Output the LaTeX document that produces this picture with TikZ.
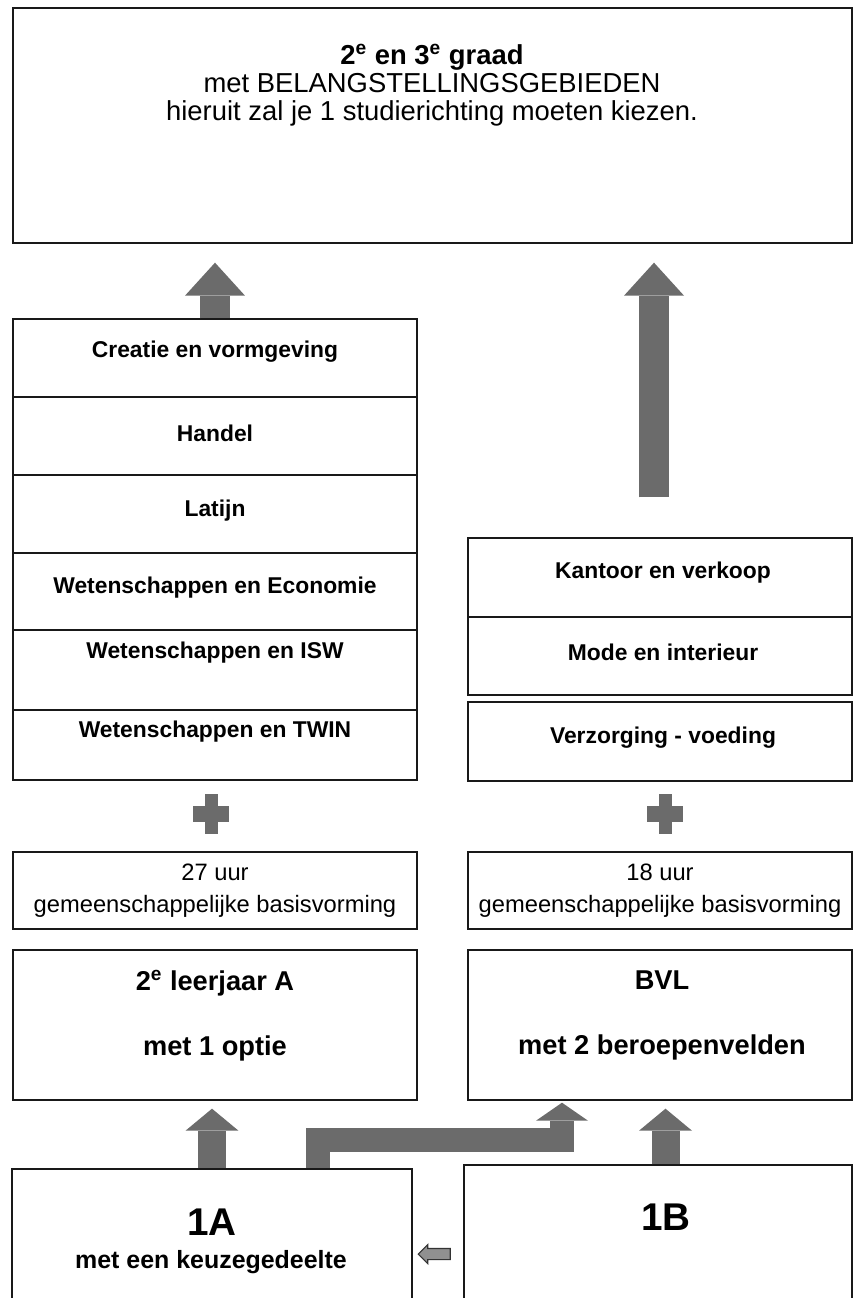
\documentclass[tikz,border=0pt]{standalone}
\usepackage{fontspec}
\setmainfont{Liberation Sans}
\usepackage{tikz}
\usetikzlibrary{arrows.meta}
\usetikzlibrary{shapes.arrows}

\definecolor{arrowgray}{RGB}{107,107,107}

\begin{document}
\begin{tikzpicture}[x=0.02cm, y=-0.02cm,
        box/.style={draw=black!90, line width=0.8pt, inner sep=0pt},
        opt/.style={font=\fontsize{13}{15}\selectfont\bfseries},
        upbig/.style={draw=arrowgray, line width=0.6cm, -{Triangle[width=1.2cm,length=0.66cm,line width=0pt]}},
        upsmall/.style={draw=arrowgray, line width=0.56cm, -{Triangle[width=1.06cm,length=0.44cm,line width=0pt]}},
        bendup/.style={draw=arrowgray, line width=0.48cm, line join=miter, -{Triangle[width=1.04cm,length=0.36cm,line width=0pt]}}]

        \useasboundingbox (0,0) rectangle (853,1298);
        \fill[white] (0,0) rectangle (853,1298);
        \clip (0,0) rectangle (853,1298);

        % top: 2e en 3e graad
        \node[box, minimum width=16.78cm, minimum height=4.7cm] (top) at (432.5,125.5) {};
        \node[align=center, font=\fontsize{15.6}{15.9}\selectfont] (toptxt) at (432,85)
            {\textbf{2\textsuperscript{e} en 3\textsuperscript{e} graad}\\met BELANGSTELLINGSGEBIEDEN\\hieruit zal je 1 studierichting moeten kiezen.};

        % options 2e leerjaar A
        \node[box, minimum width=8.08cm, minimum height=1.56cm] (crea) at (215,358) {};
        \node[box, minimum width=8.08cm, minimum height=1.56cm] (hand) at (215,436) {};
        \node[box, minimum width=8.08cm, minimum height=1.56cm] (lat) at (215,514) {};
        \node[box, minimum width=8.08cm, minimum height=1.54cm] (weco) at (215,591.5) {};
        \node[box, minimum width=8.08cm, minimum height=1.6cm] (wisw) at (215,670) {};
        \node[box, minimum width=8.08cm, minimum height=1.4cm] (wtwin) at (215,745) {};
        \node[opt] (creatxt) at (215,352) {Creatie en vormgeving};
        \node[opt] (handtxt) at (215,433) {Handel};
        \node[opt] (lattxt) at (215,511) {Latijn};
        \node[opt] (wecotxt) at (215,588) {Wetenschappen en Economie};
        \node[opt] (wiswtxt) at (215,653) {Wetenschappen en ISW};
        \node[opt] (wtwintxt) at (215,732) {Wetenschappen en TWIN};

        % beroepenvelden BVL
        \node[box, minimum width=7.68cm, minimum height=1.58cm] (kant) at (660,577.5) {};
        \node[box, minimum width=7.68cm, minimum height=1.56cm] (mode) at (660,656) {};
        \node[box, minimum width=7.68cm, minimum height=1.58cm] (verz) at (660,741.5) {};
        \node[opt] (kanttxt) at (663,573) {Kantoor en verkoop};
        \node[opt] (modetxt) at (663,652) {Mode en interieur};
        \node[opt] (verztxt) at (663,738) {Verzorging - voeding};

        % plus signs
        \begin{scope}[shift={(211,814)}]
            \fill[arrowgray] (-6.5,-20) rectangle (6.5,20);
            \fill[arrowgray] (-18,-8) rectangle (18,8);
        \end{scope}
        \begin{scope}[shift={(665,814)}]
            \fill[arrowgray] (-6.5,-20) rectangle (6.5,20);
            \fill[arrowgray] (-18,-8) rectangle (18,8);
        \end{scope}

        % basisvorming
        \node[box, minimum width=8.08cm, minimum height=1.54cm, align=center, font=\fontsize{13.5}{18}\selectfont] (basa) at (215,890.5)
            {27 uur\\gemeenschappelijke basisvorming};
        \node[box, minimum width=7.68cm, minimum height=1.54cm, align=center, font=\fontsize{13.5}{18}\selectfont] (basb) at (660,890.5)
            {18 uur\\gemeenschappelijke basisvorming};

        % 2e leerjaar
        \node[box, minimum width=8.08cm, minimum height=3cm] (leer) at (215,1025) {};
        \node[box, minimum width=7.68cm, minimum height=3cm] (bvl) at (660,1025) {};
        \node[align=center, font=\fontsize{15.5}{37}\selectfont\bfseries] (leertxt) at (215,1015.5)
            {2\textsuperscript{e} leerjaar A\\met 1 optie};
        \node[align=center, font=\fontsize{15.5}{37}\selectfont\bfseries] (bvltxt) at (662,1015.5)
            {BVL\\met 2 beroepenvelden};

        % 1e leerjaar
        \node[box, minimum width=8cm, minimum height=3.42cm] (onea) at (212,1254.5) {};
        \node[box, minimum width=7.76cm, minimum height=3.5cm] (oneb) at (658,1252.5) {};
        \node[font=\fontsize{22}{26}\selectfont\bfseries] (oneatxt) at (212,1222) {1A};
        \node[font=\fontsize{14.2}{17}\selectfont\bfseries] (oneasub) at (211,1262) {met een keuzegedeelte};
        \node[font=\fontsize{22}{26}\selectfont\bfseries] (onebtxt) at (666,1217) {1B};

        % arrows
        \draw[upbig, shorten >=0.38cm] (crea.north) -- (crea.north |- top.south);
        \draw[upbig, shorten <=0.8cm, shorten >=0.38cm] ([xshift=-0.12cm]kant.north) -- ([xshift=-0.12cm]kant.north |- top.south);
        \draw[upsmall, shorten >=0.16cm] (onea.north) -- (onea.north |- leer.south);
        \draw[upsmall, shorten >=0.16cm] ([xshift=0.15cm]oneb.north) -- ([xshift=0.15cm]oneb.north |- bvl.south);
        \coordinate (knee) at (562,1140);
        \draw[bendup, shorten >=0.04cm] ([xshift=2.12cm]onea.north) |- (knee) -- (knee |- bvl.south);
        \node[single arrow, draw=black!80, fill=arrowgray!75, line width=0.6pt, shape border rotate=180,
              inner xsep=0pt, inner ysep=0.1cm, minimum height=0.64cm, single arrow head extend=0.08cm] (back) at (437,1254) {};
\end{tikzpicture}
\end{document}
